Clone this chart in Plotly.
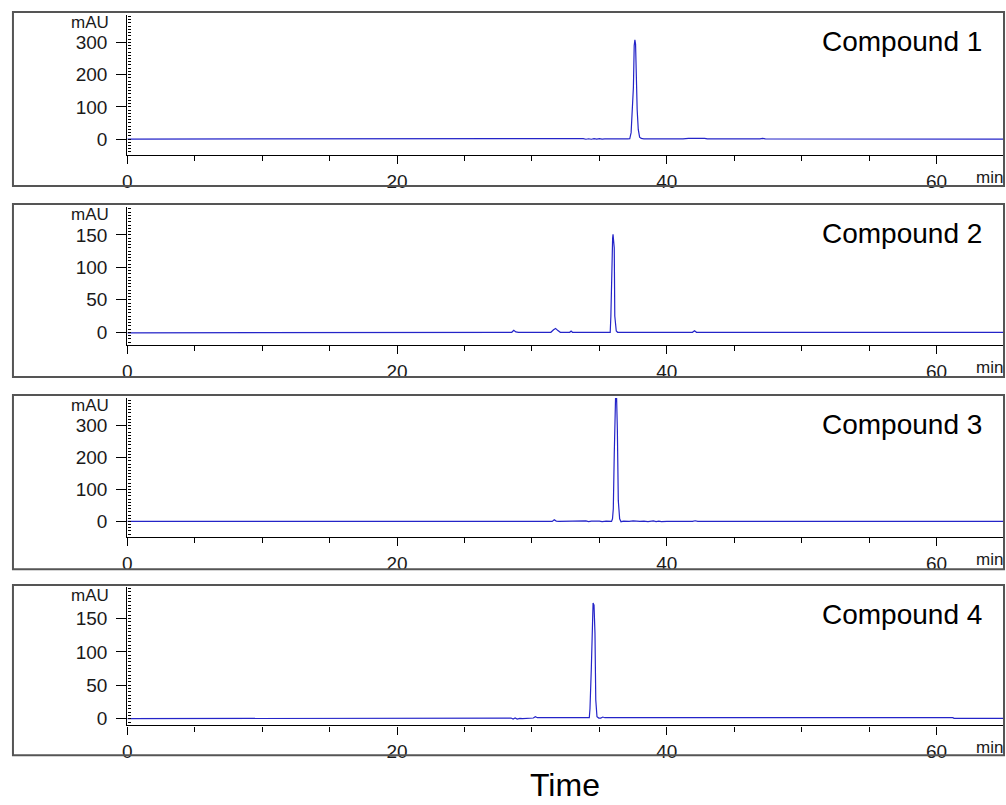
import plotly.graph_objects as go

# ---------------- data ----------------
compound_names = ["Compound 1", "Compound 2", "Compound 3", "Compound 4"]

t1 = [0, 32.6, 32.8, 33.0, 33.2, 33.5, 33.8, 34.0, 34.2, 34.4, 34.6, 34.8, 35.0, 35.2, 35.4,
      37.1, 37.25, 37.35, 37.45, 37.52, 37.58, 37.63, 37.68, 37.74, 37.8, 37.88, 37.98, 38.1, 38.3,
      41.2, 41.4, 41.6, 42.8, 43.0, 46.9, 47.1, 47.3, 65]
v1 = [0, 0, 2, 1, 0.5, 0, 1.5, -0.5, 1, -0.5, 1.5, 0, 1.5, 0, 0.5,
      0.5, 1, 20, 90, 160, 290, 308, 295, 180, 90, 30, 6, 2, 1,
      1, 2.5, 2, 2, 0.5, 0.5, 2.5, 0.5, 0]

t2 = [0, 2.2, 2.3, 28.5, 28.65, 28.8, 29.0, 31.4, 31.6, 31.75, 31.9, 32.1, 32.8, 32.9, 33.0,
      35.8, 35.85, 35.93, 35.98, 36.01, 36.05, 36.1, 36.14, 36.25, 36.35,
      41.9, 42.05, 42.2, 65]
v2 = [-1, -1, 0, 0, 3, 0.5, 0, 0, 4, 6, 3, 0, 0, 2, 0,
      0, 25, 130, 145, 151, 140, 130, 25, 2, 0,
      0, 2.5, 0, 0]

t3 = [0, 31.5, 31.65, 31.8, 32.0, 33.8, 34.0, 34.2, 34.4, 35.0, 35.2, 35.5, 35.9,
      35.97, 36.03, 36.1, 36.16, 36.2, 36.27, 36.33, 36.4, 36.5, 36.6,
      36.8, 37.2, 37.5, 38.0, 38.3, 38.6, 39.0, 39.2, 39.4, 39.6, 40.0, 41.9, 42.1, 42.3, 65]
v3 = [0, 0, 5, 1, 0, 0, 1.5, -1, 0.5, 1, -0.5, 1, 0,
      8, 40, 210, 300, 395, 395, 290, 65, 8, -1,
      1, 0, 1.5, 0, 1, -0.5, 1.5, -1, 1, -1, 0, 0, 2, 0, 0]

t4 = [0, 28.3, 28.45, 28.6, 28.75, 28.9, 29.1, 29.3, 30.1, 30.25, 30.4,
      34.25, 34.3, 34.4, 34.47, 34.53, 34.6, 34.67, 34.73, 34.82, 34.95,
      35.1, 35.25, 35.4, 61.2, 61.3, 65]
v4 = [0, 0, 1, -0.5, 1, -0.5, 0.5, 0, 1, 3, 1.5,
      1.5, 15, 75, 165, 173, 170, 128, 28, 3, 1,
      1, 2.5, 1.5, 1.5, 0.5, 0.5]

times = [t1, t2, t3, t4]
signals = [v1, v2, v3, v4]

y_ranges = [[-50, 385], [-20, 193], [-50, 387], [-10, 197]]
y_dticks = [100, 50, 100, 50]
y_minor = [10, 5, 10, 5]
x_range = [0, 65]
x_tickvals = [0, 20, 40, 60]
x_ticktext = ["0", "20", "40", "60"]

# ---------------- layout geometry (pixels) ----------------
W, H = 1006, 805
x_left_px, x_right_px = 123, 1004
plot_px = [(15, 156), (208, 347), (400, 540), (590, 729)]   # (top, bottom) of each axis area
box_px = [(12, 187), (205, 379), (397, 572), (588, 759)]   # (top, bottom) of each panel frame
box_left, box_right = 8, 1004


def px_x(p):
    return p / W


def px_y(p):
    return 1 - p / H


FONT = "Liberation Sans, Arial, sans-serif"
LINE_COLOR = "#2424c8"

fig = go.Figure()
layout = dict(
    width=W, height=H,
    margin=dict(l=0, r=0, t=0, b=0),
    paper_bgcolor="white", plot_bgcolor="white",
    showlegend=False,
    shapes=[], annotations=[],
)

for i in range(4):
    n = "" if i == 0 else str(i + 1)
    xa, ya = "x" + n, "y" + n
    fig.add_trace(go.Scatter(x=times[i], y=signals[i], mode="lines",
                             line=dict(color=LINE_COLOR, width=1.2),
                             xaxis=xa, yaxis=ya, hoverinfo="skip"))
    top, bot = plot_px[i]
    layout["xaxis" + n] = dict(
        domain=[px_x(x_left_px), px_x(x_right_px)],
        anchor=ya, range=x_range,
        showline=True, linecolor="black", linewidth=1.3,
        ticks="outside", ticklen=8, tickwidth=1.2, tickcolor="black",
        tickmode="array", tickvals=x_tickvals, ticktext=x_ticktext,
        minor=dict(tick0=0, dtick=5, ticks="outside", ticklen=5, tickwidth=1, tickcolor="black"),
        showgrid=False, zeroline=False,
        tickfont=dict(family=FONT, size=19, color="#1a1a1a"),
        ticklabelstandoff=1,
    )
    layout["yaxis" + n] = dict(
        domain=[px_y(bot), px_y(top)],
        anchor=xa, range=y_ranges[i],
        showline=True, linecolor="black", linewidth=1.3,
        ticks="outside", ticklen=10, tickwidth=1.2, tickcolor="black",
        tick0=0, dtick=y_dticks[i],
        minor=dict(tick0=0, dtick=y_minor[i], ticks="inside", ticklen=3, tickwidth=1, tickcolor="black"),
        showgrid=False, zeroline=False,
        tickfont=dict(family=FONT, size=19, color="#1a1a1a"),
        ticklabelstandoff=5,
    )
    btop, bbot = box_px[i]
    layout["shapes"].append(dict(
        type="rect", xref="paper", yref="paper",
        x0=px_x(box_left), x1=px_x(box_right), y0=px_y(bbot), y1=px_y(btop),
        line=dict(color="#555555", width=2), fillcolor="rgba(0,0,0,0)", layer="above"))
    # mAU unit label
    layout["annotations"].append(dict(
        text="mAU", xref="paper", yref="paper", x=px_x(107), y=px_y(top + 8),
        xanchor="right", yanchor="middle", showarrow=False,
        font=dict(family=FONT, size=17, color="#1a1a1a")))
    # min unit label
    layout["annotations"].append(dict(
        text="min", xref="paper", yref="paper", x=px_x(989), y=px_y(bot + 22),
        xanchor="center", yanchor="middle", showarrow=False,
        font=dict(family=FONT, size=17, color="#1a1a1a")))
    # compound label
    layout["annotations"].append(dict(
        text=compound_names[i], xref="paper", yref="paper", x=px_x(984), y=px_y(btop + 30),
        xanchor="right", yanchor="middle", showarrow=False,
        font=dict(family=FONT, size=28, color="black")))

layout["annotations"].append(dict(
    text="Time", xref="paper", yref="paper", x=px_x(563), y=px_y(789),
    xanchor="center", yanchor="middle", showarrow=False,
    font=dict(family=FONT, size=32, color="black")))

fig.update_layout(**layout)
fig.write_html(
    "out.html",
    config={"displayModeBar": False},
    post_script="document.body.style.margin='0';document.body.style.overflow='hidden';",
)
